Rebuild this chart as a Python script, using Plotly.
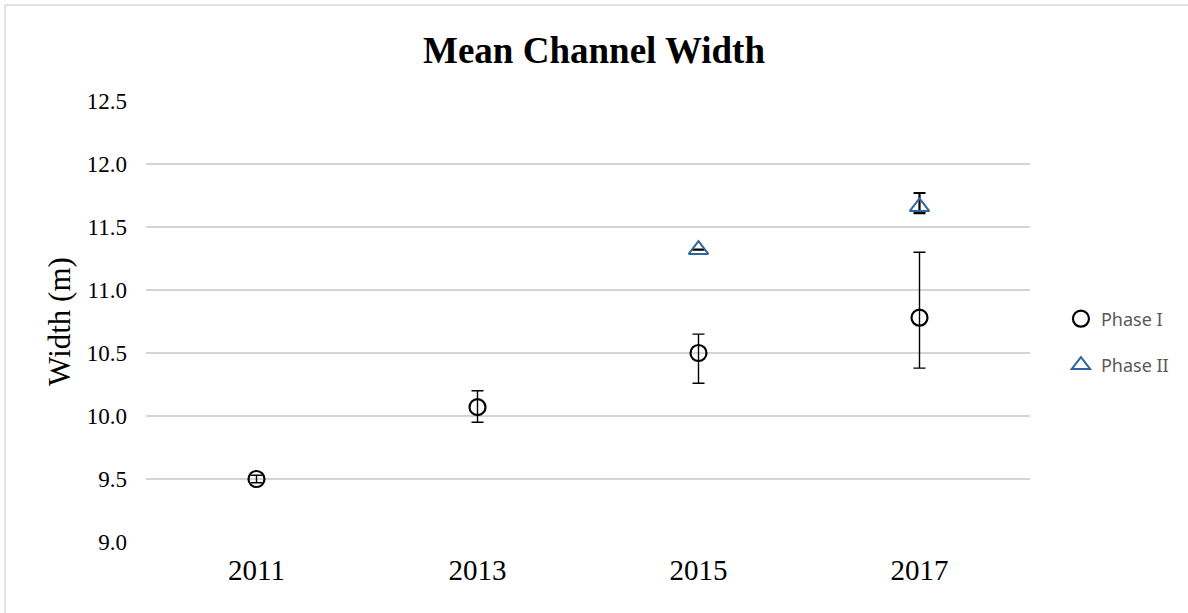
import plotly.graph_objects as go

# Survey years and mean channel widths (m)
years = ["2011", "2013", "2015", "2017"]

phase1_width = [9.50, 10.07, 10.50, 10.78]
phase1_err_plus = [0.03, 0.13, 0.15, 0.52]
phase1_err_minus = [0.03, 0.12, 0.24, 0.40]

phase2_width = [None, None, 11.32, 11.66]
phase2_err_plus = [0, 0, 0, 0.11]
phase2_err_minus = [0, 0, 0, 0.05]

y_ticks = [9.0, 9.5, 10.0, 10.5, 11.0, 11.5, 12.0, 12.5]

SERIF = "Liberation Serif, Times New Roman, serif"
BLUE = "#2f659c"

fig = go.Figure()

fig.add_trace(go.Scatter(
    x=years, y=phase1_width, mode="markers", name="Phase I",
    legendgroup="p1",
    marker=dict(symbol="circle-open", size=16, color="black",
                line=dict(width=2.2, color="black")),
    error_y=dict(type="data", symmetric=False, array=phase1_err_plus,
                 arrayminus=phase1_err_minus, color="black",
                 thickness=1.4, width=6),
))

fig.add_trace(go.Scatter(
    x=years, y=phase2_width, mode="markers", name="Phase II",
    legendgroup="p2",
    marker=dict(symbol="triangle-up-open", size=17, color=BLUE,
                line=dict(width=2, color=BLUE)),
    error_y=dict(type="data", symmetric=False, array=phase2_err_plus,
                 arrayminus=phase2_err_minus, color="black",
                 thickness=2.2, width=6),
))

# Chart-area frame (left and top edges)
fig.add_shape(type="line", xref="paper", yref="paper",
              x0=-0.1595, x1=-0.1595, y0=-0.2, y1=1.2177,
              line=dict(color="#d9d9d9", width=1.5))
fig.add_shape(type="line", xref="paper", yref="paper",
              x0=-0.1595, x1=1.2, y0=1.2177, y1=1.2177,
              line=dict(color="#d9d9d9", width=1.5))

fig.update_layout(
    width=1188, height=613,
    margin=dict(l=146, r=158, t=101, b=71, autoexpand=False),
    paper_bgcolor="white", plot_bgcolor="white",
    title=dict(text="<b>Mean Channel Width</b>", x=0.5, xanchor="center",
               y=0.918, yanchor="middle",
               font=dict(family=SERIF, size=37, color="black")),
    xaxis=dict(type="category", range=[-0.5, 3.5], showgrid=False,
               showline=False, zeroline=False, ticks="",
               tickfont=dict(family=SERIF, size=29, color="black"),
               ticklabelstandoff=8),
    yaxis=dict(range=[9.0, 12.5], tickvals=y_ticks, tickformat=".1f",
               showgrid=True, gridcolor="#d4d4d4", gridwidth=2,
               zeroline=False, showline=False, ticks="",
               tickfont=dict(family=SERIF, size=23, color="black"),
               ticklabelstandoff=18,
               title=dict(text="Width (m)", standoff=6,
                          font=dict(family=SERIF, size=31, color="black"))),
    legend=dict(x=1.035, y=0.4535, xanchor="left", yanchor="middle",
                traceorder="grouped", tracegroupgap=20,
                font=dict(family="Noto Sans, Open Sans, sans-serif",
                          size=18, color="#595959"),
                bgcolor="rgba(0,0,0,0)"),
    showlegend=True,
)

fig.write_html("out.html")
